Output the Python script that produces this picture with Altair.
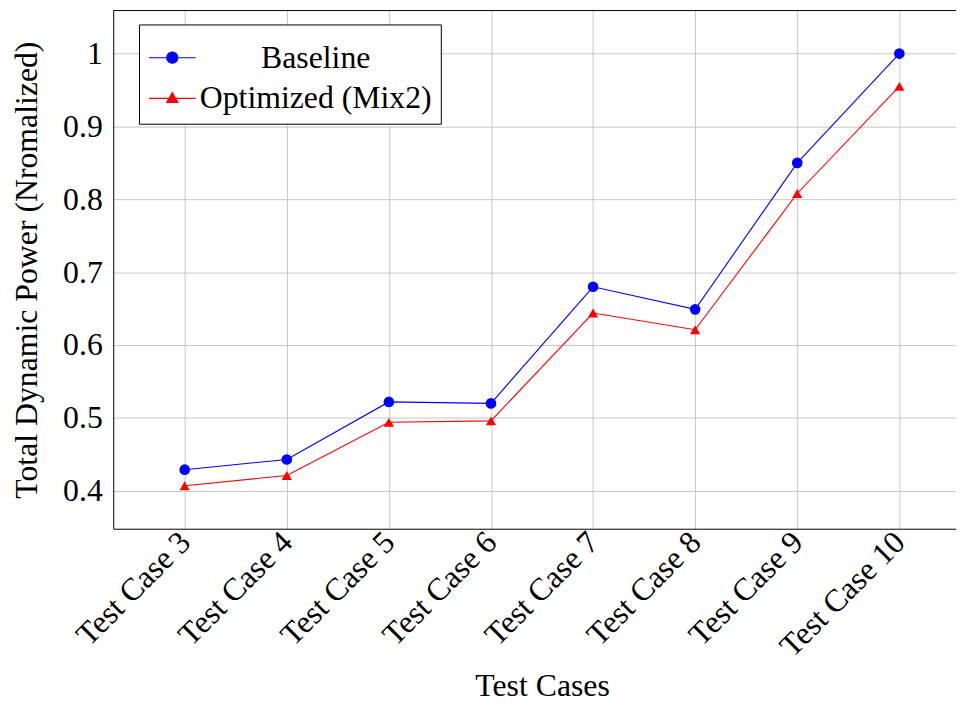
import altair as alt
import pandas as pd

cases = [3, 4, 5, 6, 7, 8, 9, 10]
baseline = [0.429, 0.443, 0.522, 0.520, 0.680, 0.649, 0.850, 1.0]
optimized = [0.407, 0.421, 0.494, 0.496, 0.644, 0.621, 0.808, 0.955]
series_names = ["Baseline", "Optimized (Mix2)"]
y_ticks = [0.4, 0.5, 0.6, 0.7, 0.8, 0.9, 1.0]
y_domain = [0.348, 1.059]
x_domain = [2.3, 10.555]

rows = []
for c, b, o in zip(cases, baseline, optimized):
    rows.append({"case": c, "series": series_names[0], "value": b})
    rows.append({"case": c, "series": series_names[1], "value": o})
df = pd.DataFrame(rows)

FONT = "Liberation Serif"
FS = 32
colors = ["#0000ff", "#ff0000"]

xscale = alt.Scale(domain=x_domain, nice=False, zero=False)
yscale = alt.Scale(domain=y_domain, nice=False, zero=False)
cscale = alt.Scale(domain=series_names, range=colors)

x_axis = alt.Axis(
    values=cases,
    labelExpr="'Test Case ' + datum.value",
    labelAngle=315,
    labelAlign="right",
    labelBaseline="middle",
    labelPadding=8,
    labelOverlap=False,
    title="Test Cases",
    titleX=432,
    titleY=175,
    titleBaseline="bottom",
)
y_axis = alt.Axis(
    values=y_ticks,
    format=".1~f",
    labelPadding=11,
    labelOverlap=False,
    title="Total Dynamic Power (Nromalized)",
    titleX=-87,
    titleBaseline="middle",
)

lines = alt.Chart(df).mark_line(strokeWidth=1.1).encode(
    x=alt.X("case:Q", scale=xscale, axis=x_axis),
    y=alt.Y("value:Q", scale=yscale, axis=y_axis),
    color=alt.Color("series:N", scale=cscale, legend=None),
    detail="series:N",
)

circles = alt.Chart(df).transform_filter(
    alt.datum.series == series_names[0]
).mark_point(filled=True, size=115, opacity=1, shape="circle").encode(
    x=alt.X("case:Q", scale=xscale),
    y=alt.Y("value:Q", scale=yscale),
    color=alt.Color("series:N", scale=cscale, legend=None),
)

triangles = alt.Chart(df).transform_filter(
    alt.datum.series == series_names[1]
).mark_point(filled=True, size=105, opacity=1, shape="triangle-up").encode(
    x=alt.X("case:Q", scale=xscale),
    y=alt.Y("value:Q", scale=yscale),
    color=alt.Color("series:N", scale=cscale, legend=None),
)

top_border = alt.Chart(pd.DataFrame({"v": [y_domain[1]]})).mark_rule(color="black", strokeWidth=1).encode(
    y=alt.Y("v:Q", scale=yscale)
)

circle_path = "M-1,0L1,0M-0.24,0A0.24,0.24,0,1,1,0.24,0A0.24,0.24,0,1,1,-0.24,0Z"
tri_path = "M-1,0L1,0M0,-0.25L0.24,0.17L-0.24,0.17Z"

leg = alt.Legend(
    title=None,
    orient="none",
    legendX=26,
    legendY=14,
    symbolSize=2209,
    symbolStrokeWidth=1.1,
    labelAlign="center",
    labelOffset=120,
    labelFont=FONT,
    labelFontSize=FS,
    labelColor="black",
    labelLimit=500,
    strokeColor="black",
    fillColor="white",
    padding=9,
    rowPadding=-3,
)

legend_layer = alt.Chart(df).transform_filter("false").mark_point(filled=True, size=2209, opacity=1).encode(
    x=alt.X("case:Q", scale=xscale),
    y=alt.Y("value:Q", scale=yscale),
    fill=alt.Fill("series:N", scale=alt.Scale(domain=series_names, range=colors), legend=leg),
    stroke=alt.Stroke("series:N", scale=alt.Scale(domain=series_names, range=colors), legend=leg),
    shape=alt.Shape("series:N", scale=alt.Scale(domain=series_names, range=[circle_path, tri_path]), legend=leg),
)

chart = (
    alt.layer(top_border, lines, circles, triangles, legend_layer)
    .resolve_scale(fill="independent", stroke="independent", shape="independent")
    .properties(
        width=849,
        height=522,
        autosize=alt.AutoSizeParams(type="none"),
        padding={"left": 106, "top": 0, "right": 0, "bottom": 175},
    )
    .configure_view(stroke=None)
    .configure_axis(
        labelFont=FONT,
        labelFontSize=FS,
        labelColor="black",
        titleFont=FONT,
        titleFontSize=FS,
        titleFontWeight="normal",
        titleColor="black",
        gridColor="#c8c8c8",
        gridWidth=1,
        domainColor="black",
        domainWidth=1,
        ticks=False,
    )
)

chart.save("out.html", embed_options={"renderer": "svg", "actions": False})
